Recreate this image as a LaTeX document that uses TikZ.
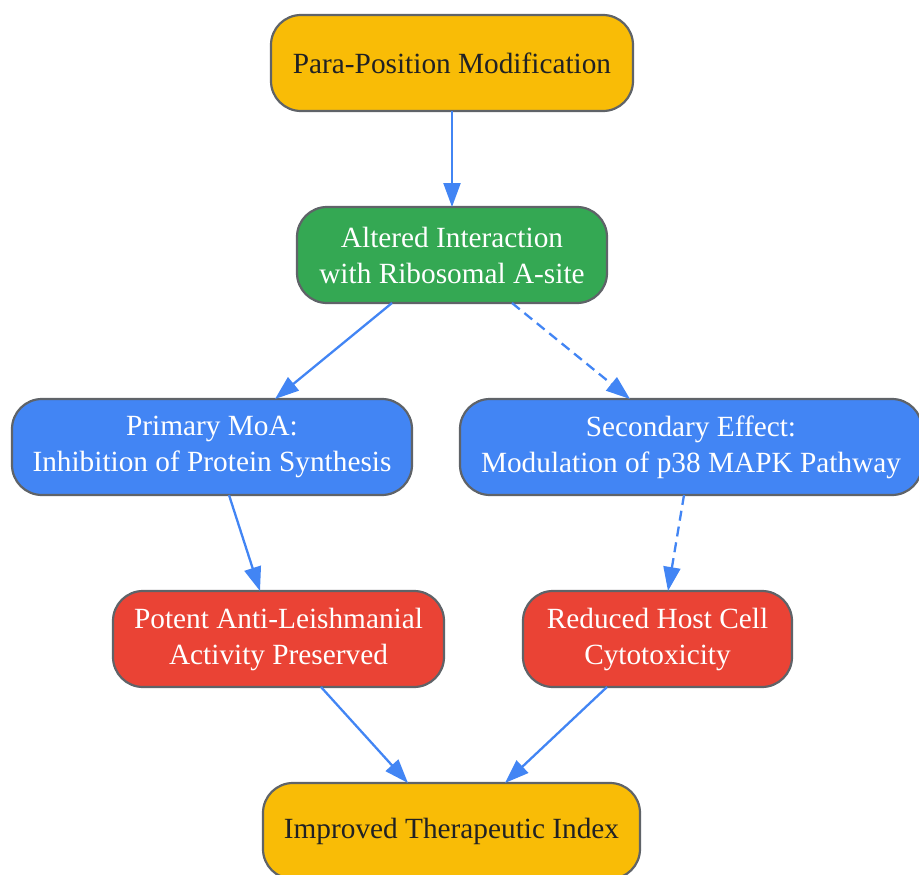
\documentclass[tikz,border=0pt]{standalone}
\usepackage{fontspec}
\setmainfont{Liberation Serif}
\usetikzlibrary{arrows.meta}
\definecolor{cyel}{HTML}{F9BC06}
\definecolor{cgrn}{HTML}{34A853}
\definecolor{cblu}{HTML}{4285F4}
\definecolor{cred}{HTML}{EA4335}
\definecolor{cbrd}{HTML}{5F6368}
\definecolor{ctxt}{HTML}{202124}
\tikzset{
  box/.style={draw=cbrd, line width=2.2pt, rounded corners=30pt, minimum height=96pt,
    align=center, inner sep=0pt, outer sep=0pt,
    font=\fontsize{29.3pt}{36pt}\selectfont},
  ybox/.style={box, fill=cyel, text=ctxt},
  gbox/.style={box, fill=cgrn, text=white},
  bbox/.style={box, fill=cblu, text=white},
  rbox/.style={box, fill=cred, text=white},
  link/.style={draw=cblu, line width=2.3pt, -{Triangle[length=24pt,width=17pt]}},
  dlink/.style={link, dash pattern=on 10pt off 6pt},
}
\begin{document}
\begin{tikzpicture}[x=1pt,y=-1pt]
\useasboundingbox (0,0) rectangle (919,875);
\clip (0,0) rectangle (919,875);
\node[ybox, minimum width=362pt] (n1) at (452,63) {Para-Position Modification};
\node[gbox, minimum width=310pt] (n2) at (452,255) {Altered Interaction\\with Ribosomal A-site};
\node[bbox, minimum width=400pt] (n3) at (212,447) {Primary MoA:\\Inhibition of Protein Synthesis};
\node[bbox, minimum width=462pt] (n4) at (691,447) {Secondary Effect:\\Modulation of p38 MAPK Pathway};
\node[rbox, minimum width=331pt] (n5) at (278.5,639) {Potent Anti-Leishmanial\\Activity Preserved};
\node[rbox, minimum width=269pt] (n6) at (657.5,639) {Reduced Host Cell\\Cytotoxicity};
\node[ybox, minimum width=377pt] (n7) at (451.5,831) {Improved Therapeutic Index};
\draw[link] (n1.south) -- (n2.north);
\draw[link] ([xshift=-60pt]n2.south) -- ([xshift=63pt]n3.north);
\draw[dlink] ([xshift=60pt]n2.south) -- ([xshift=-61pt]n4.north);
\draw[link] ([xshift=17pt]n3.south) -- ([xshift=-18.5pt]n5.north);
\draw[dlink] ([xshift=-7pt]n4.south) -- ([xshift=10.5pt]n6.north);
\draw[link] ([xshift=42.5pt]n5.south) -- ([xshift=-43.5pt]n7.north);
\draw[link] ([xshift=-50.5pt]n6.south) -- ([xshift=53.5pt]n7.north);
\end{tikzpicture}
\end{document}
